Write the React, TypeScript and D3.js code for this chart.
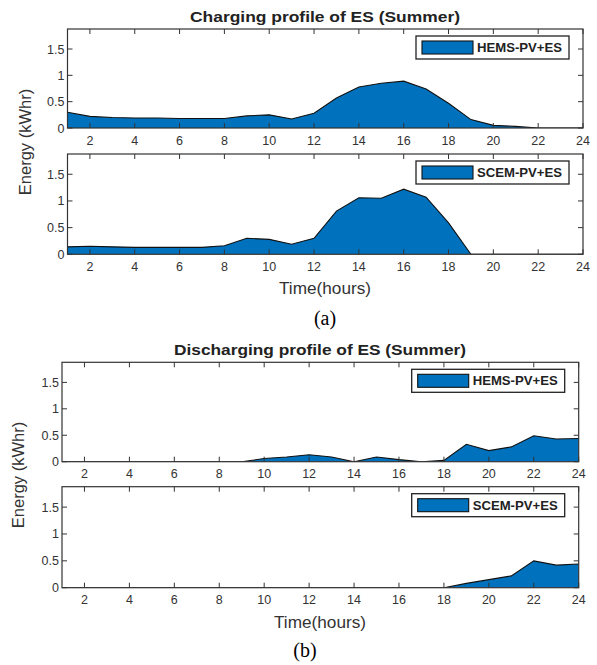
import React from "react";
import * as d3 from "d3";

const hours = d3.range(1, 25);
const chargeHEMS = [0.30, 0.22, 0.20, 0.19, 0.19, 0.18, 0.18, 0.18, 0.23, 0.25, 0.17, 0.28, 0.57, 0.78, 0.85, 0.89, 0.74, 0.47, 0.16, 0.05, 0.03, 0, 0, 0];
const chargeSCEM = [0.14, 0.15, 0.14, 0.13, 0.13, 0.13, 0.13, 0.16, 0.30, 0.28, 0.19, 0.30, 0.81, 1.06, 1.05, 1.22, 1.07, 0.59, 0, 0, 0, 0, 0, 0];
const dischargeHEMS = [0, 0, 0, 0, 0, 0, 0, 0, 0, 0.06, 0.09, 0.13, 0.09, 0, 0.09, 0.04, 0, 0.025, 0.33, 0.21, 0.28, 0.49, 0.43, 0.44];
const dischargeSCEM = [0, 0, 0, 0, 0, 0, 0, 0, 0, 0, 0, 0, 0, 0, 0, 0, 0, 0, 0.08, 0.15, 0.22, 0.5, 0.42, 0.44];
const xTicks = [2, 4, 6, 8, 10, 12, 14, 16, 18, 20, 22, 24];
const yTicks = [0, 0.5, 1, 1.5];
const yTickLabels = ["0", "0.5", "1", "1.5"];

const BLUE = "#0072BD";
const AX = "#333333";
const FONT = "'Liberation Sans', Arial, sans-serif";

type PanelProps = {
  values: number[];
  label: string;
  left: number;
  right: number;
  top: number;
  bottom: number;
  id: string;
};

function Panel({ values, label, left, right, top, bottom, id }: PanelProps) {
  const x = d3.scaleLinear().domain([1, 24]).range([left, right]);
  const y = d3.scaleLinear().domain([0, 1.88]).range([bottom, top]);
  const pts = hours.map((h, i) => [h, values[i]] as [number, number]);
  const area = d3
    .area<[number, number]>()
    .x((d) => x(d[0]))
    .y0(() => y(0))
    .y1((d) => y(d[1]));
  const line = d3
    .line<[number, number]>()
    .x((d) => x(d[0]))
    .y((d) => y(d[1]));
  const tl = 5;
  const lgRight = right - 14;
  const lgLeft = lgRight - 153;
  const lgTop = top + 7;
  const lgBottom = lgTop + 23;
  return (
    <g>
      <defs>
        <clipPath id={id}>
          <rect x={left} y={top} width={right - left} height={bottom - top} />
        </clipPath>
      </defs>
      <g clipPath={`url(#${id})`}>
        <path d={area(pts) || ""} fill={BLUE} stroke="none" />
        <path d={line(pts) || ""} fill="none" stroke="#111" strokeWidth={1.1} />
      </g>
      {xTicks.map((t) => (
        <g key={"x" + t}>
          <line x1={x(t)} x2={x(t)} y1={bottom} y2={bottom - tl} stroke={AX} strokeWidth={1} />
          <line x1={x(t)} x2={x(t)} y1={top} y2={top + tl} stroke={AX} strokeWidth={1} />
          <text x={x(t)} y={bottom + 16.5} textAnchor="middle" fontFamily={FONT} fontSize={12.5} fill={AX}>
            {t}
          </text>
        </g>
      ))}
      {yTicks.map((t, i) => (
        <g key={"y" + t}>
          <line x1={left} x2={left + tl} y1={y(t)} y2={y(t)} stroke={AX} strokeWidth={1} />
          <line x1={right} x2={right - tl} y1={y(t)} y2={y(t)} stroke={AX} strokeWidth={1} />
          <text x={left - 3} y={y(t) + 4.5} textAnchor="end" fontFamily={FONT} fontSize={12.5} fill={AX}>
            {yTickLabels[i]}
          </text>
        </g>
      ))}
      <rect x={left} y={top} width={right - left} height={bottom - top} fill="none" stroke={AX} strokeWidth={1.2} />
      <rect x={lgLeft} y={lgTop} width={lgRight - lgLeft} height={lgBottom - lgTop} fill="#fff" stroke="#222" strokeWidth={1.3} />
      <rect x={lgLeft + 6} y={lgTop + 5} width={51} height={13} fill={BLUE} stroke="#111" strokeWidth={1.1} />
      <text
        x={lgLeft + 61}
        y={lgTop + 16}
        fontFamily={FONT}
        fontWeight="bold"
        fontSize={13}
        fill="#222"
        textLength={85}
        lengthAdjust="spacingAndGlyphs"
      >
        {label}
      </text>
    </g>
  );
}

export default function App() {
  return (
    <svg
      width={597}
      height={665}
      style={{ position: "absolute", left: 0, top: 0, background: "#fff" }}
    >
      <rect x={0} y={0} width={597} height={665} fill="#fff" />
      <text x={325} y={22} textAnchor="middle" fontFamily={FONT} fontWeight="bold" fontSize={15} fill="#222" textLength={270} lengthAdjust="spacingAndGlyphs">
        Charging profile of ES (Summer)
      </text>
      <Panel id="c1" values={chargeHEMS} label="HEMS-PV+ES" left={67.5} right={583} top={29} bottom={128} />
      <Panel id="c2" values={chargeSCEM} label="SCEM-PV+ES" left={67.5} right={583} top={154} bottom={254.3} />
      <text transform="translate(31,142) rotate(-90)" textAnchor="middle" fontFamily={FONT} fontSize={16.5} fill={AX}>
        Energy (kWhr)
      </text>
      <text x={325} y={294} textAnchor="middle" fontFamily={FONT} fontSize={16.5} fill={AX} textLength={92} lengthAdjust="spacingAndGlyphs">
        Time(hours)
      </text>
      <text x={325} y={325} textAnchor="middle" fontFamily="'Liberation Serif', 'Times New Roman', serif" fontSize={20} fill="#000">
        (a)
      </text>

      <text x={320} y={355} textAnchor="middle" fontFamily={FONT} fontWeight="bold" fontSize={15} fill="#222" textLength={292} lengthAdjust="spacingAndGlyphs">
        Discharging profile of ES (Summer)
      </text>
      <Panel id="d1" values={dischargeHEMS} label="HEMS-PV+ES" left={62} right={578.7} top={362.3} bottom={461.7} />
      <Panel id="d2" values={dischargeSCEM} label="SCEM-PV+ES" left={62} right={578.7} top={486.7} bottom={587.7} />
      <text transform="translate(24,475) rotate(-90)" textAnchor="middle" fontFamily={FONT} fontSize={16.5} fill={AX}>
        Energy (kWhr)
      </text>
      <text x={320} y={628} textAnchor="middle" fontFamily={FONT} fontSize={16.5} fill={AX} textLength={92} lengthAdjust="spacingAndGlyphs">
        Time(hours)
      </text>
      <text x={305} y={657} textAnchor="middle" fontFamily="'Liberation Serif', 'Times New Roman', serif" fontSize={20} fill="#000">
        (b)
      </text>
    </svg>
  );
}
